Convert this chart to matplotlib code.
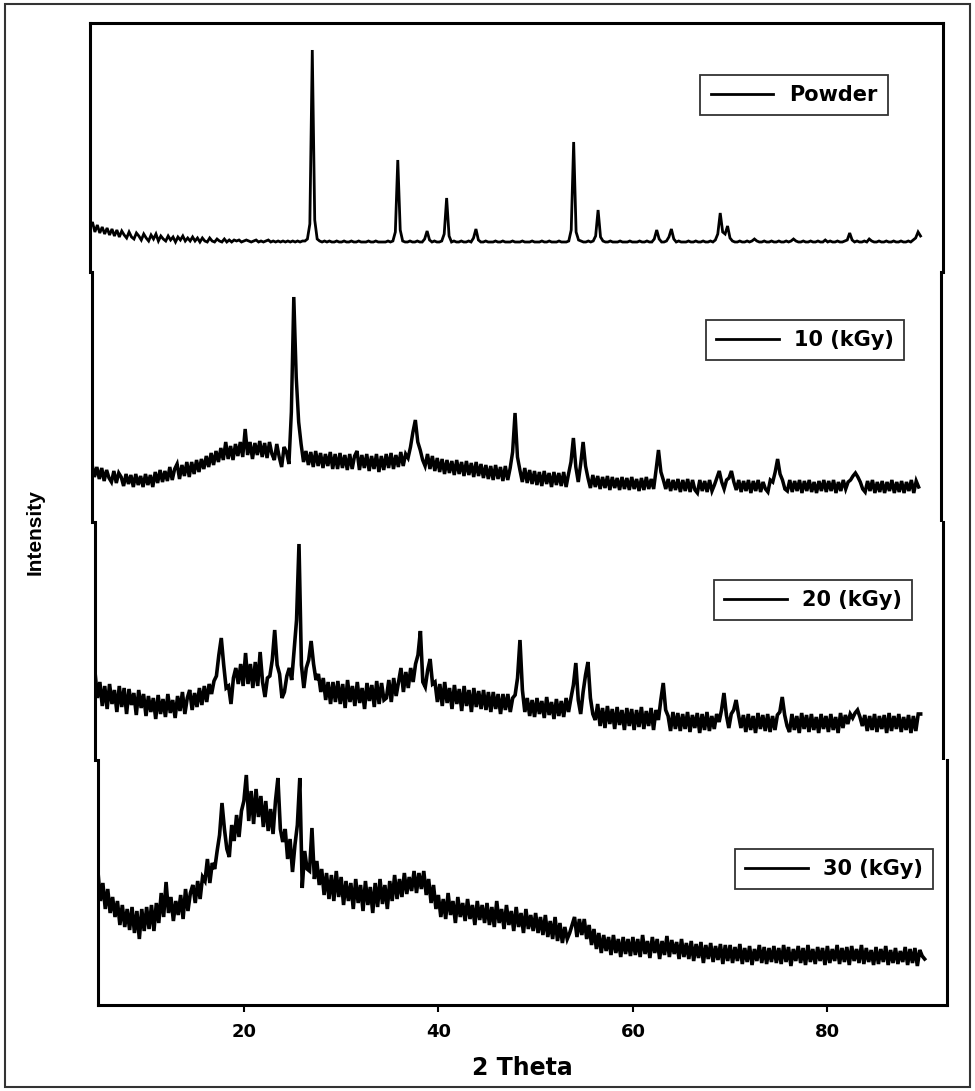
import matplotlib
matplotlib.use("Agg")
import numpy as np
import matplotlib.pyplot as plt
from matplotlib.patches import Rectangle

# XRD patterns, intensity in arbitrary units, sampled every 0.25 deg from 5 to 90 (2 theta)
theta_start = 5.0
theta_step = 0.25

powder = [
    44, 50, 40, 47, 39, 45, 38, 44, 37, 43, 36, 42, 35, 41, 37, 34, 40, 35, 33, 39,
    36, 32, 38, 34, 31, 37, 33, 38, 31, 36, 33, 31, 36, 32, 35, 30, 35, 32, 36, 31,
    34, 31, 35, 31, 34, 30, 34, 31, 30, 34, 31, 30, 33, 31, 30, 33, 30, 32, 30, 32,
    31, 32, 30, 31, 32, 31, 30, 31, 32, 30, 31, 30, 31, 32, 30, 31, 30, 31, 30, 31,
    30, 31, 30, 31, 30, 31, 30, 31, 31, 33, 48, 222, 52, 33, 31, 30, 31, 30, 31, 30,
    30, 31, 30, 30, 31, 30, 30, 31, 30, 30, 31, 30, 30, 30, 31, 30, 30, 31, 30, 30,
    30, 30, 31, 30, 31, 40, 112, 42, 31, 30, 30, 31, 30, 30, 31, 30, 30, 33, 41, 32,
    30, 31, 30, 30, 31, 38, 74, 36, 30, 31, 30, 30, 31, 30, 30, 31, 30, 34, 43, 32,
    30, 30, 31, 30, 30, 30, 31, 30, 30, 31, 30, 30, 30, 31, 30, 30, 30, 31, 30, 30,
    30, 31, 30, 30, 30, 31, 30, 30, 31, 30, 30, 30, 31, 30, 30, 30, 31, 42, 130, 40,
    32, 31, 30, 30, 31, 30, 31, 36, 62, 35, 31, 30, 30, 31, 30, 30, 30, 31, 30, 30,
    30, 31, 30, 30, 30, 31, 30, 30, 31, 30, 30, 33, 42, 33, 30, 30, 31, 35, 43, 33,
    30, 31, 30, 30, 30, 31, 30, 30, 31, 30, 30, 31, 30, 30, 31, 30, 32, 38, 59, 40,
    38, 46, 34, 31, 30, 30, 31, 30, 30, 31, 30, 31, 33, 31, 30, 30, 31, 30, 30, 31,
    30, 30, 31, 30, 30, 31, 30, 31, 33, 31, 30, 30, 31, 30, 30, 31, 30, 30, 31, 30,
    30, 32, 30, 31, 30, 30, 31, 30, 30, 31, 32, 39, 32, 30, 31, 30, 30, 31, 30, 33,
    31, 30, 30, 31, 30, 30, 31, 30, 30, 31, 30, 30, 31, 30, 30, 31, 30, 32, 34, 40,
    36,
]

kgy10 = [
    58, 45, 55, 43, 54, 41, 52, 44, 40, 51, 39, 49, 45, 36, 48, 38, 47, 35, 48, 37,
    46, 35, 48, 37, 47, 35, 50, 39, 52, 40, 51, 41, 55, 42, 53, 58, 43, 57, 46, 60,
    45, 60, 48, 62, 50, 63, 53, 66, 55, 69, 57, 71, 60, 74, 62, 80, 63, 76, 62, 78,
    66, 80, 65, 93, 67, 80, 63, 79, 67, 81, 65, 79, 64, 80, 68, 62, 78, 65, 55, 75,
    70, 58, 110, 225, 145, 100, 78, 60, 71, 57, 70, 55, 71, 56, 69, 54, 68, 56, 70, 53,
    68, 53, 69, 54, 67, 52, 68, 53, 66, 71, 52, 67, 54, 68, 51, 66, 53, 68, 50, 66,
    52, 68, 54, 69, 53, 67, 55, 70, 56, 68, 64, 75, 90, 102, 80, 72, 62, 56, 68, 53,
    66, 51, 64, 50, 63, 48, 62, 49, 61, 47, 62, 48, 60, 46, 61, 47, 59, 45, 60, 46,
    58, 44, 57, 43, 56, 42, 57, 43, 55, 41, 56, 42, 54, 70, 109, 65, 52, 40, 54, 39,
    52, 38, 51, 37, 50, 36, 51, 38, 49, 35, 50, 37, 49, 36, 50, 35, 48, 60, 84, 55,
    40, 58, 80, 56, 44, 34, 47, 35, 46, 33, 45, 34, 46, 32, 45, 34, 44, 32, 45, 33,
    44, 32, 45, 33, 43, 31, 44, 32, 45, 33, 43, 33, 52, 72, 50, 42, 33, 43, 31, 42,
    32, 43, 30, 42, 31, 43, 30, 42, 32, 29, 42, 31, 41, 30, 42, 31, 37, 44, 51, 40,
    33, 42, 44, 51, 40, 32, 42, 30, 41, 31, 42, 29, 41, 31, 42, 30, 40, 33, 30, 42,
    40, 50, 63, 48, 42, 33, 31, 42, 30, 41, 31, 42, 29, 41, 31, 42, 30, 40, 29, 41,
    31, 42, 30, 41, 31, 42, 29, 40, 31, 42, 33, 40, 42, 46, 49, 45, 40, 33, 30, 41,
    31, 42, 29, 40, 30, 41, 29, 40, 31, 42, 29, 40, 30, 41, 29, 40, 31, 42, 29, 41,
    35,
]

kgy20 = [
    88, 62, 78, 54, 74, 51, 76, 56, 70, 48, 74, 53, 72, 46, 71, 55, 67, 45, 70, 52,
    66, 44, 64, 48, 62, 41, 65, 46, 61, 43, 66, 47, 60, 42, 64, 49, 68, 46, 62, 70,
    50, 67, 53, 72, 55, 74, 58, 76, 66, 79, 84, 105, 122, 95, 72, 74, 56, 82, 92, 76,
    96, 74, 107, 76, 96, 72, 98, 74, 108, 78, 63, 82, 84, 100, 130, 95, 86, 62, 68, 84,
    92, 80, 110, 140, 216, 95, 72, 92, 100, 119, 96, 80, 86, 68, 82, 60, 78, 56, 78, 58,
    79, 56, 76, 52, 80, 58, 74, 54, 78, 57, 72, 51, 77, 59, 75, 53, 79, 56, 77, 60,
    62, 80, 58, 82, 64, 78, 92, 68, 88, 72, 92, 78, 96, 105, 129, 78, 73, 90, 101, 76,
    78, 58, 76, 54, 78, 57, 72, 51, 75, 56, 71, 49, 74, 54, 70, 48, 72, 53, 69, 51,
    70, 50, 68, 48, 68, 51, 66, 46, 66, 50, 66, 48, 62, 65, 82, 120, 70, 48, 62, 44,
    60, 43, 62, 46, 59, 42, 63, 45, 58, 41, 61, 44, 59, 43, 62, 48, 62, 75, 97, 60,
    46, 68, 85, 98, 62, 46, 40, 56, 34, 52, 32, 54, 36, 51, 31, 53, 35, 50, 30, 52,
    34, 51, 30, 50, 33, 53, 31, 49, 34, 52, 30, 50, 40, 60, 77, 50, 44, 29, 48, 31,
    47, 29, 46, 31, 48, 28, 45, 32, 47, 27, 46, 30, 48, 29, 44, 31, 46, 38, 50, 67,
    45, 32, 46, 50, 60, 45, 32, 45, 28, 46, 30, 44, 27, 47, 31, 45, 29, 46, 28, 44,
    30, 45, 48, 63, 45, 34, 28, 46, 30, 44, 27, 47, 31, 45, 28, 46, 30, 43, 27, 46,
    31, 44, 28, 46, 30, 43, 27, 47, 32, 45, 36, 46, 42, 47, 50, 43, 34, 45, 29, 44,
    30, 46, 28, 44, 31, 45, 27, 47, 29, 44, 31, 46, 28, 43, 30, 45, 27, 44, 29, 46,
    46,
]

kgy30 = [
    133, 104, 122, 96, 116, 92, 108, 88, 104, 80, 100, 78, 96, 75, 98, 72, 94, 66, 96, 74,
    98, 76, 100, 74, 102, 82, 112, 88, 123, 92, 108, 84, 104, 90, 110, 86, 116, 94, 112, 120,
    102, 124, 106, 128, 124, 146, 122, 142, 136, 154, 170, 202, 176, 156, 148, 180, 164, 190, 168, 194,
    204, 230, 184, 214, 181, 216, 188, 209, 178, 204, 174, 196, 171, 204, 227, 176, 163, 176, 146, 166,
    133, 160, 180, 227, 117, 154, 136, 134, 177, 126, 144, 120, 136, 110, 132, 106, 130, 104, 134, 108,
    128, 100, 124, 104, 122, 96, 126, 102, 120, 94, 124, 100, 118, 92, 122, 98, 126, 101, 120, 96,
    124, 104, 130, 106, 126, 108, 132, 111, 128, 114, 134, 112, 132, 116, 134, 110, 126, 102, 120, 96,
    110, 88, 106, 86, 112, 90, 104, 82, 108, 88, 102, 84, 106, 86, 100, 80, 104, 85, 100, 82,
    102, 80, 98, 78, 104, 82, 96, 76, 100, 80, 94, 74, 98, 78, 92, 72, 96, 76, 90, 74,
    92, 72, 88, 70, 90, 68, 84, 66, 88, 64, 82, 62, 78, 66, 72, 80, 88, 68, 86, 70,
    86, 66, 80, 60, 76, 56, 72, 52, 70, 54, 68, 50, 70, 52, 66, 48, 68, 51, 66, 49,
    68, 50, 66, 48, 70, 51, 64, 47, 68, 52, 66, 46, 64, 50, 69, 48, 65, 51, 63, 46,
    66, 48, 62, 46, 64, 44, 61, 47, 63, 42, 60, 46, 62, 43, 59, 45, 61, 41, 60, 44,
    60, 42, 58, 44, 61, 41, 57, 43, 59, 40, 56, 44, 60, 42, 58, 41, 57, 43, 59, 42,
    57, 41, 60, 43, 58, 39, 56, 44, 59, 42, 57, 40, 60, 43, 56, 41, 58, 44, 57, 40,
    59, 42, 56, 44, 60, 41, 57, 43, 58, 40, 59, 44, 56, 42, 60, 41, 57, 43, 55, 40,
    58, 41, 56, 43, 59, 40, 55, 42, 57, 41, 54, 43, 58, 40, 56, 42, 57, 39, 55, 49,
    46,
]

labels = ["Powder", "10 (kGy)", "20 (kGy)", "30 (kGy)"]
curves = [powder, kgy10, kgy20, kgy30]
x_ticks = [20, 40, 60, 80]

W, H = 975, 1091
# panel frames in pixels: left, top, right, bottom
panels = [(90, 23, 943, 272), (92, 272, 941, 522), (95, 522, 943, 760), (98, 760, 947, 1005)]
legend_centers = [(794, 95), (805, 340), (813, 600), (834, 869)]
line_widths = [2.0, 2.5, 2.6, 2.6]

plt.rcParams["font.family"] = "DejaVu Sans"
plt.rcParams["font.weight"] = "bold"

fig = plt.figure(figsize=(W / 100, H / 100), dpi=100)

for i, (label, vals) in enumerate(zip(labels, curves)):
    assert len(vals) == 341, (label, len(vals))
    theta = theta_start + theta_step * np.arange(len(vals))
    l, t, r, b = panels[i]
    ax = fig.add_axes([l / W, 1 - b / H, (r - l) / W, (b - t) / H])
    ax.plot(theta, vals, color="black", lw=line_widths[i], solid_joinstyle="miter")
    ax.set_xlim(5, 92.3)
    ax.set_ylim(0, b - t)
    ax.set_yticks([])

    for side in ["left", "right", "top", "bottom"]:
        ax.spines[side].set_linewidth(2.2)
    ax.spines["bottom"].set_visible(i == 3)
    ax.spines["top"].set_visible(i == 0)

    if i == 3:
        ax.set_xticks(x_ticks)
        ax.tick_params(axis="x", direction="out", length=5, width=1.5, pad=8,
                       labelsize=13)
        for lab in ax.get_xticklabels():
            lab.set_fontweight("bold")
        ax.set_xlabel("2 Theta", fontsize=17, fontweight="bold", labelpad=11)
    else:
        ax.set_xticks([])

    cx, cy = legend_centers[i]
    handle = plt.Line2D([], [], color="black", lw=2.0)
    leg = ax.legend([handle], [label], loc="center", bbox_to_anchor=(cx / W, 1 - cy / H),
                    bbox_transform=fig.transFigure, frameon=True, fancybox=False,
                    framealpha=1, edgecolor="#333333", borderpad=0.5,
                    handlelength=3.0, handletextpad=0.75,
                    prop={"weight": "bold", "size": 15})
    leg.get_frame().set_linewidth(1.3)

fig.text(35 / W, 1 - 532 / H, "Intensity", rotation=90, ha="center", va="center",
         fontsize=15, fontweight="bold", family="Liberation Sans")

fig.add_artist(Rectangle((5 / W, 4 / H), 965 / W, 1083 / H, transform=fig.transFigure,
                         fill=False, edgecolor="#333333", lw=1.5))

fig.savefig("out.png", dpi=100)
